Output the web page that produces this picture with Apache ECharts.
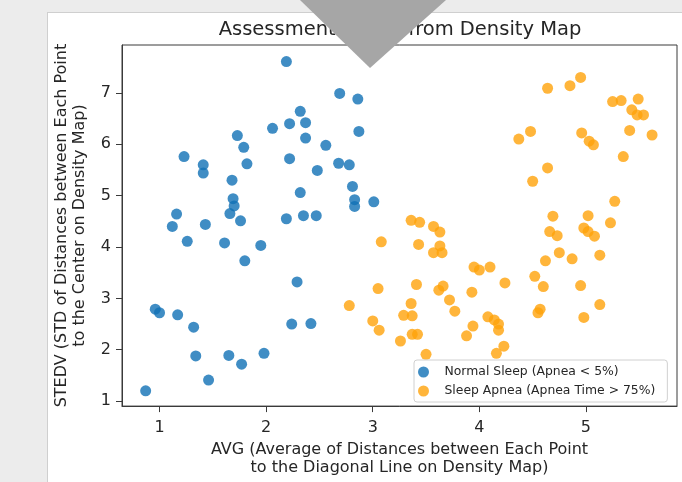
<!DOCTYPE html>
<html>
<head>
<meta charset="utf-8">
<script src="https://cdn.jsdelivr.net/npm/echarts@6/dist/echarts.min.js"></script>
<style>
  html, body { margin: 0; padding: 0; background: #ececec; width: 682px; height: 482px; overflow: hidden; }
  #card { position: absolute; left: 47px; top: 12px; width: 700px; height: 500px; background: #fff; border: 1px solid #cfcfcf; }
  #chart { position: absolute; left: 0; top: 0; width: 682px; height: 482px; }
</style>
</head>
<body>
<div id="card"></div>
<div id="chart"></div>
<script>
const chartTitle = "Assessment Result from Density Map";
const xAxisName = "AVG (Average of Distances between Each Point\nto the Diagonal Line on Density Map)";
const yAxisName = "STEDV (STD of Distances between Each Point\nto the Center on Density Map)";
const seriesNames = ["Normal Sleep (Apnea < 5%)", "Sleep Apnea (Apnea Time > 75%)"];
const xTicks = [1, 2, 3, 4, 5];
const yTicks = [1, 2, 3, 4, 5, 6, 7];

const normalSleep = [
  [2.19, 7.61], [2.69, 6.99], [2.86, 6.88], [2.32, 6.64], [2.37, 6.42], [2.22, 6.40],
  [2.06, 6.31], [2.87, 6.25], [1.73, 6.17], [2.37, 6.12], [1.79, 5.94], [2.56, 5.98],
  [1.23, 5.76], [2.22, 5.72], [1.41, 5.60], [1.41, 5.44], [1.82, 5.62], [2.68, 5.63],
  [2.78, 5.60], [2.48, 5.49], [1.68, 5.30], [2.81, 5.18], [2.32, 5.06], [3.01, 4.88],
  [2.83, 4.92], [2.83, 4.79], [1.69, 4.94], [1.70, 4.80], [1.66, 4.65], [1.76, 4.51],
  [1.16, 4.64], [1.12, 4.40], [1.43, 4.44], [2.19, 4.55], [2.35, 4.61], [2.47, 4.61],
  [1.26, 4.11], [1.61, 4.08], [1.95, 4.03], [1.80, 3.73], [2.29, 3.32], [0.96, 2.79],
  [1.00, 2.72], [1.17, 2.68], [1.32, 2.44], [2.24, 2.50], [2.42, 2.51], [1.34, 1.88],
  [1.65, 1.89], [1.77, 1.72], [1.98, 1.93], [1.46, 1.41], [0.87, 1.20]
];

const sleepApnea = [
  [4.95, 7.30], [4.85, 7.14], [4.64, 7.09], [5.25, 6.83], [5.33, 6.85], [5.49, 6.88],
  [5.43, 6.67], [5.48, 6.57], [5.54, 6.57], [4.48, 6.25], [4.37, 6.10], [4.96, 6.22],
  [5.03, 6.06], [5.07, 5.99], [5.41, 6.27], [5.62, 6.18], [5.35, 5.76], [4.64, 5.54],
  [4.50, 5.28], [5.27, 4.89], [4.69, 4.60], [5.02, 4.61], [5.23, 4.47], [4.66, 4.30],
  [4.73, 4.22], [4.98, 4.37], [5.02, 4.30], [5.08, 4.21], [4.75, 3.89], [4.87, 3.77],
  [5.13, 3.84], [4.62, 3.73], [4.52, 3.43], [4.60, 3.23], [4.95, 3.25], [5.13, 2.88],
  [4.57, 2.79], [4.55, 2.72], [4.98, 2.63], [3.36, 4.52], [3.44, 4.48], [3.57, 4.40],
  [3.63, 4.29], [3.08, 4.10], [3.43, 4.05], [3.63, 4.02], [3.57, 3.89], [3.65, 3.89],
  [3.95, 3.61], [4.00, 3.55], [4.10, 3.61], [4.24, 3.30], [3.05, 3.19], [3.41, 3.27],
  [3.62, 3.16], [3.66, 3.24], [3.93, 3.12], [3.72, 2.97], [3.77, 2.75], [2.78, 2.86],
  [3.36, 2.90], [3.29, 2.67], [3.37, 2.66], [3.00, 2.56], [3.06, 2.38], [4.08, 2.64],
  [4.14, 2.58], [4.18, 2.50], [4.18, 2.38], [3.94, 2.46], [3.88, 2.27], [3.37, 2.30],
  [3.42, 2.30], [3.26, 2.17], [4.23, 2.07], [4.16, 1.93], [3.50, 1.91]
];

const FONT = "DejaVu Sans";
const TXT = "#262626";
const AX = "#3a3a3a";

const chart = echarts.init(document.getElementById('chart'), null, { renderer: 'canvas' });
chart.setOption({
  animation: false,
  backgroundColor: 'transparent',
  textStyle: { fontFamily: FONT },
  title: {
    text: chartTitle,
    left: 400,
    top: 20,
    textAlign: 'center',
    padding: 0,
    textStyle: { fontFamily: FONT, fontSize: 19.5, fontWeight: 'normal', color: TXT }
  },
  grid: {
    left: 122, top: 45, right: 5, bottom: 75,
    show: true, borderColor: AX, borderWidth: 1, backgroundColor: '#fff'
  },
  legend: {
    orient: 'vertical',
    left: 414,
    top: 360,
    padding: [5, 12, 4, 4],
    itemWidth: 28,
    itemHeight: 11,
    itemGap: 5,
    backgroundColor: 'rgba(255,255,255,0.85)',
    borderColor: '#d0d0d0',
    borderWidth: 1,
    borderRadius: 3,
    textStyle: { fontFamily: FONT, fontSize: 12.4, lineHeight: 14, color: TXT, padding: [0, 0, 0, 2] },
    data: seriesNames.map(n => ({ name: n, icon: 'circle' }))
  },
  xAxis: {
    type: 'value',
    min: 0.648,
    max: 5.854,
    name: xAxisName,
    nameLocation: 'middle',
    nameGap: 32,
    nameTextStyle: { fontFamily: FONT, fontSize: 16, lineHeight: 18, color: TXT },
    axisLine: { show: true, lineStyle: { color: AX, width: 1 } },
    axisTick: { show: true, length: 6, lineStyle: { color: AX }, customValues: xTicks },
    axisLabel: { show: true, fontFamily: FONT, fontSize: 16, color: TXT, margin: 14, customValues: xTicks, formatter: v => String(v) },
    splitLine: { show: false }
  },
  yAxis: {
    type: 'value',
    min: 0.903,
    max: 7.932,
    name: yAxisName,
    nameLocation: 'middle',
    nameRotate: 90,
    nameGap: 33,
    nameTextStyle: { fontFamily: FONT, fontSize: 16, lineHeight: 18, color: TXT },
    axisLine: { show: true, lineStyle: { color: AX, width: 1 } },
    axisTick: { show: true, length: 6, lineStyle: { color: AX }, customValues: yTicks },
    axisLabel: { show: true, fontFamily: FONT, fontSize: 16, color: TXT, margin: 11, customValues: yTicks, formatter: v => String(v) },
    splitLine: { show: false }
  },
  series: [
    {
      name: seriesNames[0],
      type: 'scatter',
      symbol: 'circle',
      symbolSize: 11,
      itemStyle: { color: '#1071b5' },
      data: normalSleep
    },
    {
      name: seriesNames[1],
      type: 'scatter',
      symbol: 'circle',
      symbolSize: 11,
      itemStyle: { color: '#ffa20a' },
      data: sleepApnea
    }
  ],
  graphic: [
    {
      type: 'polygon',
      z: 1000,
      silent: true,
      shape: { points: [[300, 0], [446, 0], [370, 68]] },
      style: { fill: '#a6a6a6' }
    }
  ]
});
</script>
</body>
</html>
